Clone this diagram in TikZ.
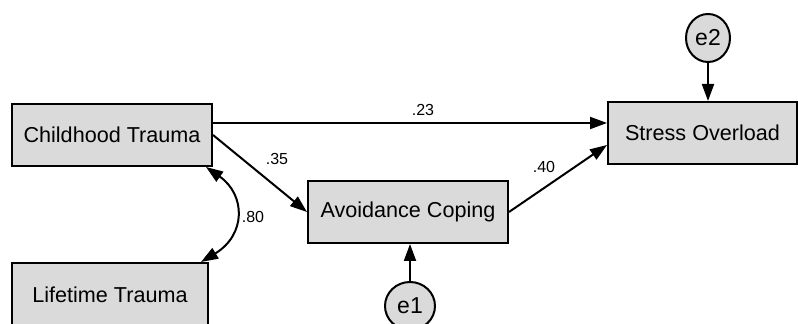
\documentclass[tikz,border=0pt]{standalone}
\usepackage{fontspec}
\setmainfont{Liberation Sans}
\usetikzlibrary{arrows.meta,shapes.geometric}
\definecolor{boxgray}{RGB}{218,218,218}
\begin{document}
\begin{tikzpicture}[x=0.5pt, y=-0.5pt,
    var/.style={rectangle, draw, line width=1pt, fill=boxgray, inner sep=0pt,
      minimum width=100pt, minimum height=31pt, font=\fontsize{10.8}{13}\selectfont},
    err/.style={ellipse, draw, line width=1pt, fill=boxgray, inner sep=0pt,
      minimum width=22pt, minimum height=24pt, font=\fontsize{11.5}{13}\selectfont},
    arr/.style={line width=1pt, -{Triangle[length=8.5pt,width=6pt]}},
    coef/.style={font=\fontsize{8}{10}\selectfont, inner sep=0pt}]
  \clip (0,0) rectangle (798,324);
  % observed variables
  \node[var] (child) at (112,135) {Childhood Trauma};
  \node[var, minimum width=98pt, minimum height=32pt] (life) at (110,295) {Lifetime Trauma};
  \node[var] (avoid) at (408,212) {Avoidance Coping};
  \node[var, minimum width=94.5pt] (stress) at (702.5,133) {Stress Overload};
  % errors
  \node[err, minimum width=25pt] (e1) at (410,306) {e1};
  \node[err] (e2) at (708,38) {e2};
  % paths
  \draw[arr] ([yshift=6pt]child.east) -- ([yshift=6pt]child.east -| stress.west);
  \draw[arr] (child.east) -- (avoid.west);
  \draw[arr] (avoid.east) -- ([yshift=-6pt]stress.west);
  \draw[arr] (e1) -- (e1 |- avoid.south);
  \draw[arr] (e2) -- (e2 |- stress.north);
  \draw[line width=1pt, {Triangle[length=8.5pt,width=6pt]}-{Triangle[length=8.5pt,width=6pt]}]
    ([xshift=-3.5pt]child.south east) .. controls (246,195) and (246,235) .. ([xshift=-4pt]life.north east);
  % coefficients
  \node[coef] (c23) at (423,110) {.23};
  \node[coef] (c35) at (277,159) {.35};
  \node[coef] (c40) at (544,167) {.40};
  \node[coef] (c80) at (253,217) {.80};
\end{tikzpicture}
\end{document}
